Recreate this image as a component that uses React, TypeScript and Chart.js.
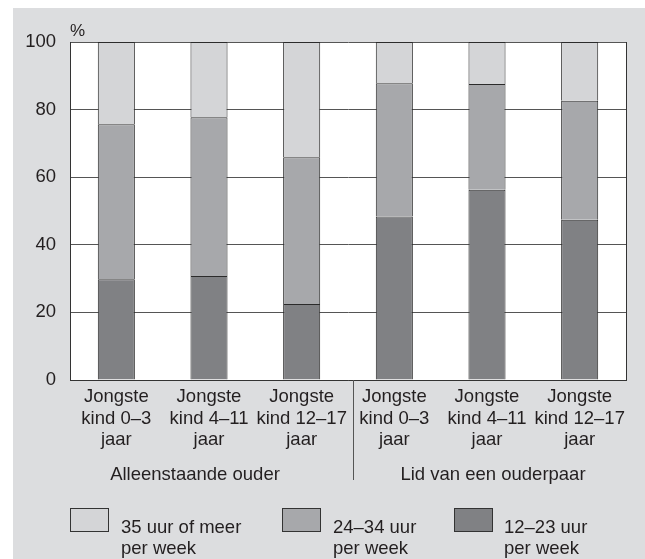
import React, { useEffect, useRef } from "react";
import { Chart, registerables } from "chart.js";

Chart.register(...registerables);

const categories: string[][] = [
  ["Jongste", "kind 0–3", "jaar"],
  ["Jongste", "kind 4–11", "jaar"],
  ["Jongste", "kind 12–17", "jaar"],
  ["Jongste", "kind 0–3", "jaar"],
  ["Jongste", "kind 4–11", "jaar"],
  ["Jongste", "kind 12–17", "jaar"],
];
const groupLabels = ["Alleenstaande ouder", "Lid van een ouderpaar"];

const hours12to23 = [29.8, 30.8, 22.5, 48.4, 56.3, 47.4];
const hours24to34 = [45.9, 46.9, 43.4, 39.4, 31.3, 35.2];
const hours35plus = [24.3, 22.3, 34.1, 12.2, 12.4, 17.4];

const seriesNames: string[][] = [
  ["35 uur of meer", "per week"],
  ["24–34 uur", "per week"],
  ["12–23 uur", "per week"],
];
const seriesColors = ["#d4d5d7", "#a7a8ab", "#808184"];
const yUnit = "%";

const FONT = "'Liberation Sans', Arial, Helvetica, sans-serif";
const TEXT = "#231f20";
const FS = 18.5;

export default function App() {
  const ref = useRef<HTMLCanvasElement | null>(null);

  useEffect(() => {
    document.body.style.margin = "0";
    const canvas = ref.current;
    if (!canvas) return;

    const decor = {
      id: "decor",
      beforeDraw(chart: any) {
        const { ctx, chartArea } = chart;
        ctx.save();
        ctx.fillStyle = "#ffffff";
        ctx.fillRect(chartArea.left, chartArea.top, chartArea.right - chartArea.left, chartArea.bottom - chartArea.top);
        ctx.restore();
      },
      afterDraw(chart: any) {
        const { ctx, chartArea } = chart;
        const x = chart.scales.x;
        ctx.save();
        ctx.strokeStyle = "#333333";
        ctx.lineWidth = 1;
        ctx.beginPath();
        ctx.moveTo(Math.round(chartArea.right) + 0.5, chartArea.top);
        ctx.lineTo(Math.round(chartArea.right) + 0.5, chartArea.bottom);
        ctx.stroke();
        const sep = (x.getPixelForValue(2) + x.getPixelForValue(3)) / 2 + 5;
        ctx.strokeStyle = "#555555";
        ctx.beginPath();
        ctx.moveTo(Math.round(sep) + 0.5, chartArea.bottom);
        ctx.lineTo(Math.round(sep) + 0.5, chartArea.bottom + 100);
        ctx.stroke();
        ctx.fillStyle = TEXT;
        ctx.font = `${FS}px ${FONT}`;
        ctx.textAlign = "center";
        ctx.textBaseline = "middle";
        const g1 = x.getPixelForValue(1) - 14;
        const g2 = x.getPixelForValue(4) + 6;
        ctx.fillText(groupLabels[0], g1, chartArea.bottom + 95);
        ctx.fillText(groupLabels[1], g2, chartArea.bottom + 95);
        ctx.restore();
      },
    };

    const chart = new Chart(canvas, {
      type: "bar",
      data: {
        labels: categories,
        datasets: [
          {
            label: seriesNames[2].join(" "),
            data: hours12to23,
            backgroundColor: seriesColors[2],
            borderColor: "#2b2b2b",
            borderWidth: 1,
          },
          {
            label: seriesNames[1].join(" "),
            data: hours24to34,
            backgroundColor: seriesColors[1],
            borderColor: "#2b2b2b",
            borderWidth: 1,
          },
          {
            label: seriesNames[0].join(" "),
            data: hours35plus,
            backgroundColor: seriesColors[0],
            borderColor: "#2b2b2b",
            borderWidth: 1,
          },
        ],
      },
      options: {
        responsive: false,
        animation: false,
        layout: { padding: { top: 42, right: 19, left: 0, bottom: 79 } },
        datasets: { bar: { categoryPercentage: 1, barPercentage: 0.4 } },
        plugins: { legend: { display: false }, tooltip: { enabled: false } },
        scales: {
          x: {
            stacked: true,
            grid: { display: false, drawTicks: false },
            border: { display: true, color: "#333333", width: 1 },
            ticks: {
              autoSkip: false,
              maxRotation: 0,
              minRotation: 0,
              padding: 6,
              color: TEXT,
              font: { family: FONT, size: FS, lineHeight: 1.17 },
            },
            afterFit: (scale: any) => {
              scale.height = 100;
            },
          },
          y: {
            stacked: true,
            min: 0,
            max: 100,
            grid: { color: "#555555", lineWidth: 1, drawTicks: false },
            border: { display: true, color: "#333333", width: 1 },
            ticks: {
              stepSize: 20,
              padding: 14,
              color: TEXT,
              font: { family: FONT, size: FS },
            },
            afterFit: (scale: any) => {
              scale.width = 70;
            },
          },
        },
      },
      plugins: [decor],
    });

    return () => chart.destroy();
  }, []);

  const legendBoxLeft = [70, 282, 454];
  const legendTextLeft = [121, 333, 504];
  const legendOrder = [0, 1, 2];

  return (
    <div
      style={{
        position: "relative",
        width: 645,
        height: 559,
        background: "#ffffff",
        overflow: "hidden",
        fontFamily: FONT,
        color: TEXT,
      }}
    >
      <div style={{ position: "absolute", left: 13, top: 8, right: 0, bottom: 0, background: "#dcdddf" }} />
      <canvas ref={ref} width={645} height={559} style={{ position: "absolute", left: 0, top: 0 }} />
      <div style={{ position: "absolute", left: 70, top: 22, fontSize: 17, lineHeight: "18px" }}>{yUnit}</div>
      {legendOrder.map((i) => (
        <React.Fragment key={i}>
          <div
            style={{
              position: "absolute",
              left: legendBoxLeft[i],
              top: 508,
              width: 37,
              height: 22,
              background: seriesColors[i],
              border: "1px solid #333333",
            }}
          />
          <div
            style={{
              position: "absolute",
              left: legendTextLeft[i],
              top: 516,
              fontSize: FS,
              lineHeight: "21px",
              whiteSpace: "nowrap",
            }}
          >
            {seriesNames[i].map((line, j) => (
              <div key={j}>{line}</div>
            ))}
          </div>
        </React.Fragment>
      ))}
    </div>
  );
}
